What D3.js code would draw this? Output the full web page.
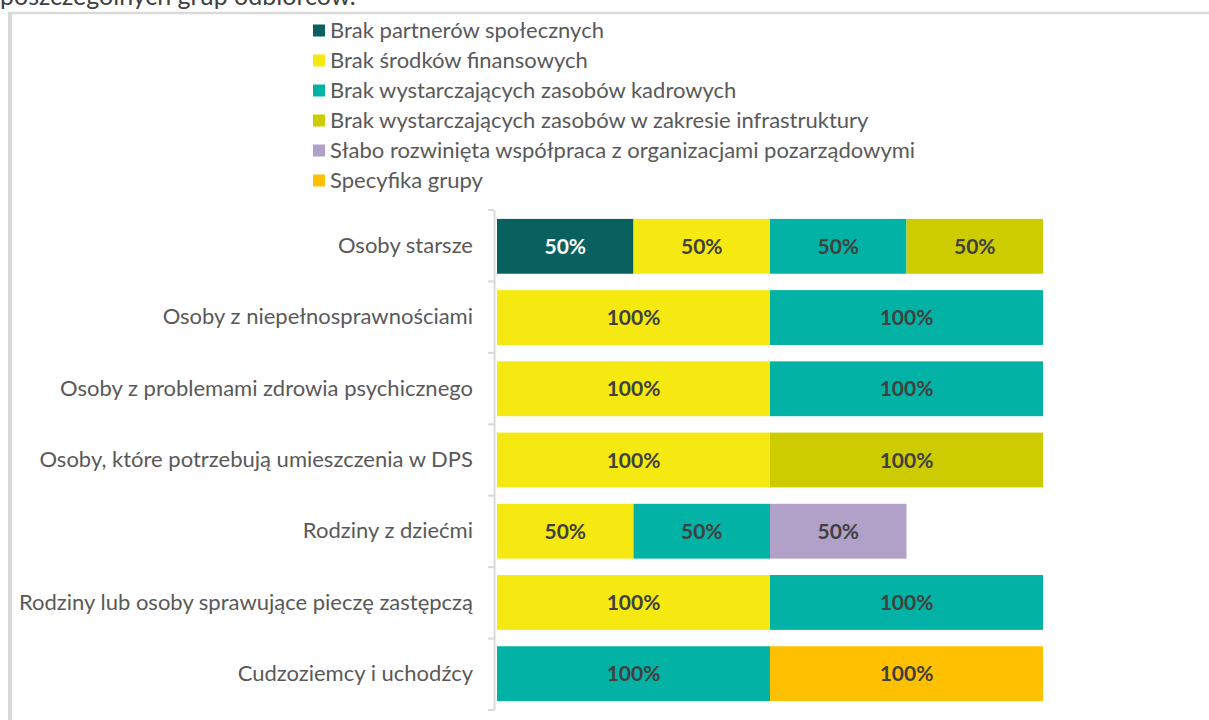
<!DOCTYPE html>
<html>
<head>
<meta charset="utf-8">
<script src="https://cdn.jsdelivr.net/npm/d3@7"></script>
<style>
  html, body { margin: 0; padding: 0; background: #fff; }
  svg { display: block; font-family: Lato, "Open Sans", sans-serif; }
</style>
</head>
<body>
<svg id="chart" width="1209" height="720"></svg>
<script>
// Target groups (rows, top to bottom)
const categories = [
  "Osoby starsze",
  "Osoby z niepełnosprawnościami",
  "Osoby z problemami zdrowia psychicznego",
  "Osoby, które potrzebują umieszczenia w DPS",
  "Rodziny z dziećmi",
  "Rodziny lub osoby sprawujące pieczę zastępczą",
  "Cudzoziemcy i uchodźcy"
];

// Barrier types (stack order)
const seriesNames = [
  "Brak partnerów społecznych",
  "Brak środków finansowych",
  "Brak wystarczających zasobów kadrowych",
  "Brak wystarczających zasobów w zakresie infrastruktury",
  "Słabo rozwinięta współpraca z organizacjami pozarządowymi",
  "Specyfika grupy"
];

const seriesColors = ["#09615F", "#F6E811", "#02B3A5", "#CCCC00", "#B1A1C8", "#FFC000"];
const labelColors  = ["#ffffff", "#404040", "#404040", "#404040", "#404040", "#404040"];

// Share of responses (%) per series, one value per category
const partnerzy      = [50, 0,   0,   0,   0,  0,   0];
const finanse        = [50, 100, 100, 100, 50, 100, 0];
const kadry          = [50, 100, 100, 0,   50, 100, 100];
const infrastruktura = [50, 0,   0,   100, 0,  0,   0];
const wspolpraca     = [0,  0,   0,   0,   50, 0,   0];
const specyfika      = [0,  0,   0,   0,   0,  0,   100];

const seriesValues = [partnerzy, finanse, kadry, infrastruktura, wspolpraca, specyfika];

const rows = categories.map((c, i) => {
  const r = { category: c };
  seriesNames.forEach((s, j) => r[s] = seriesValues[j][i]);
  return r;
});

const svg = d3.select("#chart");

// Caption line above the frame (partly cut off by the top edge)
svg.append("text")
  .attr("x", 0).attr("y", 5)
  .attr("font-size", 25).attr("fill", "#404040")
  .text("poszczególnych grup odbiorców.");

// Chart frame (top and left edges)
svg.append("line").attr("x1", 8).attr("x2", 1209).attr("y1", 13).attr("y2", 13)
  .attr("stroke", "#d9d9d9").attr("stroke-width", 2.5);
svg.append("line").attr("x1", 10).attr("x2", 10).attr("y1", 12).attr("y2", 720)
  .attr("stroke", "#d9d9d9").attr("stroke-width", 4);

const x = d3.scaleLinear().domain([0, 200]).range([497, 1043]);
const y = d3.scaleBand().domain(categories).range([210, 710])
  .paddingInner(0.23).paddingOuter(0.125);

const layers = d3.stack().keys(seriesNames)(rows);

const layerG = svg.append("g").selectAll("g")
  .data(layers).join("g")
  .attr("fill", (d, i) => seriesColors[i]);

layerG.selectAll("rect")
  .data(d => d.filter(p => p[1] - p[0] > 0))
  .join("rect")
  .attr("x", p => x(p[0]))
  .attr("width", p => x(p[1]) - x(p[0]))
  .attr("y", p => y(p.data.category))
  .attr("height", y.bandwidth());

// Value labels centred in each segment
layers.forEach((layer, i) => {
  svg.append("g").selectAll("text")
    .data(layer.filter(p => p[1] - p[0] > 0))
    .join("text")
    .attr("x", p => (x(p[0]) + x(p[1])) / 2)
    .attr("y", p => y(p.data.category) + y.bandwidth() / 2)
    .attr("dy", "0.36em")
    .attr("text-anchor", "middle")
    .attr("font-size", 21).attr("font-weight", "bold")
    .attr("fill", labelColors[i])
    .text(p => (p[1] - p[0]) + "%");
});

// Category axis
const yAxisScale = d3.scaleBand().domain(categories).range([210, 710]);
const axisG = svg.append("g").attr("transform", "translate(494,0)")
  .call(d3.axisLeft(yAxisScale).tickSize(0).tickPadding(21));
axisG.select(".domain").attr("stroke", "#d9d9d9").attr("stroke-width", 2);
axisG.selectAll(".tick text").attr("font-size", 22).attr("fill", "#595959")
  .attr("font-family", "Lato, 'Open Sans', sans-serif");

// Boundary tick marks between categories
const bounds = categories.map(c => yAxisScale(c)).concat([yAxisScale.range()[1]]);
svg.append("g").selectAll("line").data(bounds).join("line")
  .attr("x1", 488).attr("x2", 494)
  .attr("y1", d => d).attr("y2", d => d)
  .attr("stroke", "#d9d9d9").attr("stroke-width", 2);

// Legend
const legend = svg.append("g").selectAll("g")
  .data(seriesNames).join("g")
  .attr("transform", (d, i) => `translate(313,${30.5 + i * 30})`);
legend.append("rect").attr("x", 0).attr("y", -6).attr("width", 12).attr("height", 12)
  .attr("fill", (d, i) => seriesColors[i]);
legend.append("text").attr("x", 17).attr("y", 0).attr("dy", "0.35em")
  .attr("font-size", 22).attr("fill", "#595959")
  .text(d => d);
</script>
</body>
</html>
